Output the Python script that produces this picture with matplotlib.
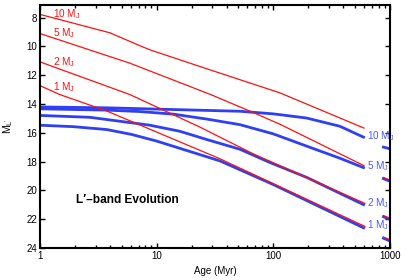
import numpy as np
import matplotlib.pyplot as plt

plt.rcParams['font.family'] = ['Liberation Sans', 'DejaVu Sans']
plt.rcParams['mathtext.fontset'] = 'custom'
plt.rcParams['mathtext.rm'] = 'Liberation Sans'
plt.rcParams['mathtext.it'] = 'Liberation Sans'

# red tracks (one model set)
red_ages = {
    '10': [1, 3.98, 7.2, 8.9, 28.6, 114, 600],
    '5': [1, 5.9, 29.5, 67, 114, 600],
    '2': [1, 5.9, 23.5, 67, 610],
    '1': [1, 1.48, 3.73, 34.9, 610],
}
red_mag = {
    '10': [7.77, 9.05, 9.95, 10.25, 11.62, 13.22, 15.67],
    '5': [9.1, 11.16, 13.36, 14.58, 15.4, 18.28],
    '2': [11.07, 13.34, 15.6, 17.45, 20.9],
    '1': [12.72, 13.34, 14.48, 17.8, 22.5],
}

# blue tracks (other model set)
blue_ages = {
    '10': [1, 3.73, 13.9, 51.8, 100, 193, 372, 609],
    '5': [1, 3.73, 7.2, 13.9, 26.8, 51.8, 100, 193, 372, 609],
    '2': [1, 2.68, 8.77, 15.8, 26.8, 51.8, 93.6, 193, 609],
    '1': [1, 1.93, 3.73, 6.1, 10, 34.9, 100, 609],
}
blue_mag = {
    '10': [14.2, 14.26, 14.38, 14.5, 14.68, 14.97, 15.54, 16.34],
    '5': [14.33, 14.42, 14.52, 14.7, 15.04, 15.43, 16.07, 16.92, 17.76, 18.45],
    '2': [14.79, 14.92, 15.47, 15.89, 16.46, 17.14, 18.06, 19.09, 21.03],
    '1': [15.47, 15.57, 15.77, 16.11, 16.57, 17.95, 19.59, 22.64],
}

# short pieces at the right edge
edge_ages = [880, 1050]
edge_mag = [[16.99, 17.15], [19.1, 19.35], [21.75, 22.0], [23.24, 23.5]]

masses = ['10', '5', '2', '1']
red_label_y = [7.74, 9.06, 11.08, 12.79]
blue_label_y = [16.23, 18.3, 20.88, 22.44]

blue = '#2f3ff5'
red = '#ff1010'

fig = plt.figure(figsize=(4.07, 2.80), dpi=100)
ax = fig.add_axes([0.0983, 0.1143, 0.8597, 0.8687])

for m in masses:
    ax.plot(blue_ages[m], blue_mag[m], color=blue, lw=2.0, solid_capstyle='butt')
for m in masses:
    ax.plot(red_ages[m], red_mag[m], color=red, lw=0.9)

for i, em in enumerate(edge_mag):
    if i > 0:
        ax.plot(edge_ages, [v + 0.08 for v in em], color=blue, lw=2.0)
        ax.plot(edge_ages, em, color=red, lw=0.9)
    else:
        ax.plot(edge_ages, em, color=blue, lw=2.0)

for m, y in zip(masses, red_label_y):
    ax.text(1.285, y, m + r' M$_{\rm J}$', color=red, fontsize=7.2, va='center', ha='left')
for m, y in zip(masses, blue_label_y):
    ax.text(640, y, m + r' M$_{\rm J}$', color='#4a5af8', fontsize=7.2, va='center', ha='left')

ax.text(2.03, 20.65, 'L\u2032\u2013band Evolution', fontsize=8.6, fontweight='bold', va='center', ha='left')

ax.set_xscale('log')
ax.set_xlim(1, 1000)
ax.set_ylim(24, 7.1)
ax.set_yticks(np.arange(8, 25, 2))
ax.set_xticks([1, 10, 100, 1000])
ax.set_xticklabels(['1', '10', '100', '1000'])
ax.tick_params(which='both', direction='in', top=True, right=True, labelsize=7, width=1.0)
ax.tick_params(which='major', length=3.5, pad=2)
ax.tick_params(which='minor', length=2)
for s in ax.spines.values():
    s.set_linewidth(1.5)

ax.set_xlabel('Age (Myr)', fontsize=7, labelpad=4)
ax.set_ylabel(r"M$_{\rm L'}$", fontsize=7.5, labelpad=8)

fig.savefig('out.png', dpi=100)
